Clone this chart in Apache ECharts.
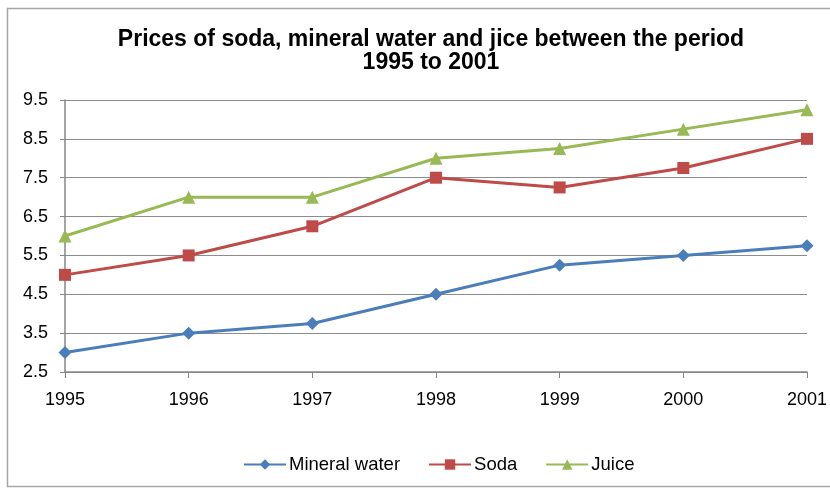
<!DOCTYPE html>
<html><head><meta charset="utf-8">
<script src="https://cdn.jsdelivr.net/npm/echarts@6/dist/echarts.min.js"></script>
<style>html,body{margin:0;padding:0;background:#fff;}#c{width:830px;height:489px;}</style>
</head><body><div id="c"></div>
<script>
const years = ['1995','1996','1997','1998','1999','2000','2001'];
const mineralWater = [3, 3.5, 3.75, 4.5, 5.25, 5.5, 5.75];
const soda = [5, 5.5, 6.25, 7.5, 7.25, 7.75, 8.5];
const juice = [6, 7, 7, 8, 8.25, 8.75, 9.25];
const yTicks = [2.5, 3.5, 4.5, 5.5, 6.5, 7.5, 8.5, 9.5];

const chart = echarts.init(document.getElementById('c'), null, {renderer:'canvas'});
const font = 'Liberation Sans, Arial, sans-serif';
chart.setOption({
  animation:false,
  graphic:[{type:'rect',shape:{x:7.5,y:8.5,width:830,height:478},style:{fill:'none',stroke:'#a6a6a6',lineWidth:1.5},silent:true}],
  title:{text:'Prices of soda, mineral water and jice between the period\n1995 to 2001',left:426,textAlign:'center',top:23,
    textStyle:{fontFamily:font,fontWeight:'bold',fontSize:23,color:'#000',lineHeight:23}},
  legend:{top:450,left:238,itemGap:28,itemWidth:42,itemHeight:13,
    textStyle:{fontFamily:font,fontSize:18.5,color:'#000',padding:[0,0,0,-2]},
    data:['Mineral water','Soda','Juice']},
  grid:{left:65,right:23,top:100,bottom:117},
  xAxis:{type:'category',data:years,boundaryGap:false,
    axisLine:{lineStyle:{color:'#868686',width:1.5}},
    axisTick:{show:true,length:6,lineStyle:{color:'#868686'}},
    axisLabel:{fontFamily:font,fontSize:18,color:'#000',margin:19},
    splitLine:{show:false}},
  yAxis:{type:'value',min:yTicks[0],max:yTicks[yTicks.length-1],interval:1,
    axisLine:{show:true,lineStyle:{color:'#868686',width:1.5}},
    axisTick:{show:true,length:5,lineStyle:{color:'#868686'}},
    axisLabel:{fontFamily:font,fontSize:18,color:'#000',margin:17,formatter:v=>v.toFixed(1)},
    splitLine:{lineStyle:{color:'#8c8c8c',width:1}}},
  series:[
    {name:'Mineral water',type:'line',data:mineralWater,symbol:'diamond',symbolSize:13,
      itemStyle:{color:'#4a7ebb'},lineStyle:{width:3,color:'#4a7ebb'}},
    {name:'Soda',type:'line',data:soda,symbol:'rect',symbolSize:12,
      itemStyle:{color:'#be4b48'},lineStyle:{width:3,color:'#be4b48'}},
    {name:'Juice',type:'line',data:juice,symbol:'triangle',symbolSize:13,
      itemStyle:{color:'#98b954'},lineStyle:{width:3,color:'#98b954'}}
  ]
});
</script></body></html>
